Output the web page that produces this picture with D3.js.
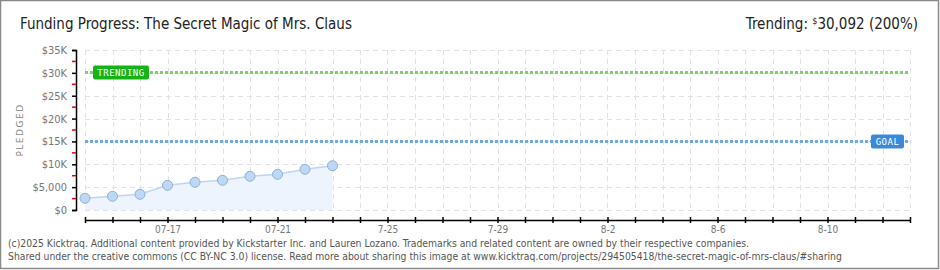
<!DOCTYPE html>
<html>
<head>
<meta charset="utf-8">
<script src="https://cdn.jsdelivr.net/npm/d3@7"></script>
<style>
  body { margin: 0; background: #fff; }
  svg { display: block; }
  .tick text { font-family: "DejaVu Sans Condensed", "Liberation Sans Narrow", sans-serif; }
</style>
</head>
<body>
<div id="chart"></div>
<script>
var days = ["2025-07-14", "2025-07-15", "2025-07-16", "2025-07-17", "2025-07-18",
            "2025-07-19", "2025-07-20", "2025-07-21", "2025-07-22", "2025-07-23"];
var pledged = [2560, 3000, 3430, 5400, 6060, 6500, 7370, 7810, 8900, 9690];
var goal = 15000;
var trending = 30092;
var trendingPct = 200;
var yTicks = [0, 5000, 10000, 15000, 20000, 25000, 30000, 35000];
var xStart = "2025-07-14", xEnd = "2025-08-13";

var width = 940, height = 270;
var parse = d3.timeParse("%Y-%m-%d");
var data = days.map(function(d, i) { return {date: parse(d), value: pledged[i]}; });

var svg = d3.select("#chart").append("svg")
    .attr("width", width)
    .attr("height", height);

// frame
svg.append("rect")
   .attr("x", 0.5).attr("y", 0.5)
   .attr("width", width - 2).attr("height", height - 2)
   .attr("fill", "#fff")
   .attr("stroke", "#8a8a8a")
   .attr("stroke-width", 1.5);

// header
svg.append("text")
   .attr("x", 20).attr("y", 29)
   .attr("font-family", "'Liberation Sans Narrow', 'DejaVu Sans Condensed', sans-serif")
   .attr("font-size", 15)
   .attr("fill", "#222")
   .text("Funding Progress: The Secret Magic of Mrs. Claus");

var hdr = svg.append("text")
   .attr("x", 918).attr("y", 29)
   .attr("text-anchor", "end")
   .attr("font-family", "'Liberation Sans Narrow', 'DejaVu Sans Condensed', sans-serif")
   .attr("font-size", 15)
   .attr("fill", "#222");
hdr.append("tspan").text("Trending:  ");
hdr.append("tspan").attr("font-size", 9).attr("dy", -5).text("$");
hdr.append("tspan").attr("dy", 5).text(d3.format(",")(trending) + " (" + trendingPct + "%)");

var x = d3.scaleTime()
    .domain([parse(xStart), parse(xEnd)])
    .range([85, 910]);
var y = d3.scaleLinear()
    .domain([0, 35000])
    .range([210, 50]);

// grid
var allDays = d3.timeDay.range(parse(xStart), d3.timeDay.offset(parse(xEnd), 1));
svg.append("g").selectAll("line").data(allDays).enter()
   .append("line")
   .attr("x1", function(d) { return Math.round(x(d)) + 0.5; })
   .attr("x2", function(d) { return Math.round(x(d)) + 0.5; })
   .attr("y1", 50).attr("y2", 210)
   .attr("stroke", "#e2e2e2")
   .attr("stroke-dasharray", "5,4");
svg.append("g").selectAll("line").data(yTicks).enter()
   .append("line")
   .attr("x1", 85).attr("x2", 910)
   .attr("y1", function(d) { return Math.round(y(d)) + 0.5; })
   .attr("y2", function(d) { return Math.round(y(d)) + 0.5; })
   .attr("stroke", "#e2e2e2")
   .attr("stroke-dasharray", "5,4");

// area + line
var area = d3.area()
    .x(function(d) { return x(d.date); })
    .y0(y(0))
    .y1(function(d) { return y(d.value); });
var line = d3.line()
    .x(function(d) { return x(d.date); })
    .y(function(d) { return y(d.value); });

svg.append("path").datum(data)
   .attr("d", area)
   .attr("fill", "#edf4fd");
svg.append("path").datum(data)
   .attr("d", line)
   .attr("fill", "none")
   .attr("stroke", "#bcd6f3")
   .attr("stroke-width", 1.5);

// goal + trending lines
svg.append("line")
   .attr("x1", 85).attr("x2", 910)
   .attr("y1", y(goal)).attr("y2", y(goal))
   .attr("stroke", "#72a9e3")
   .attr("stroke-width", 3)
   .attr("stroke-dasharray", "3,2");
svg.append("line")
   .attr("x1", 85).attr("x2", 910)
   .attr("y1", y(trending)).attr("y2", y(trending))
   .attr("stroke", "#7fcf70")
   .attr("stroke-width", 3)
   .attr("stroke-dasharray", "3,2");

// points
svg.append("g").selectAll("circle").data(data).enter()
   .append("circle")
   .attr("cx", function(d) { return x(d.date); })
   .attr("cy", function(d) { return y(d.value); })
   .attr("r", 5)
   .attr("fill", "#bdd8f5")
   .attr("stroke", "#8fb0d6")
   .attr("stroke-width", 1);

// labels on lines
function tag(label, cx, cy, w, fill) {
  svg.append("rect")
     .attr("x", cx).attr("y", cy - 7)
     .attr("width", w).attr("height", 14)
     .attr("rx", 2)
     .attr("fill", fill);
  svg.append("text")
     .attr("x", cx + w / 2).attr("y", cy + 4)
     .attr("text-anchor", "middle")
     .attr("font-family", "'DejaVu Sans Mono', monospace")
     .attr("font-size", 9)
     .attr("letter-spacing", 0.5)
     .attr("fill", "#fff")
     .text(label);
}
tag("TRENDING", 93, y(trending), 56, "#16b316");
tag("GOAL", 871, y(goal), 33, "#3b8ad9");

// y axis
var yAxis = d3.axisLeft(y)
    .tickValues(yTicks)
    .tickSize(4)
    .tickPadding(5)
    .tickFormat(function(d) { return d === 5000 ? "$5,000" : d === 0 ? "$0" : "$" + d / 1000 + "K"; });
var gy = svg.append("g")
   .attr("transform", "translate(76,0)")
   .call(yAxis);
gy.select(".domain").attr("stroke", "#000").attr("stroke-width", 1.5);
gy.selectAll(".tick line").attr("stroke", "#000").attr("stroke-width", 1.5);
gy.selectAll(".tick text").attr("fill", "#777").attr("font-size", 11);
// red minor ticks
gy.selectAll(".minor").data(yTicks.slice(0, -1)).enter()
   .append("line")
   .attr("x1", -4).attr("x2", 0)
   .attr("y1", function(d) { return y(d + 2500); })
   .attr("y2", function(d) { return y(d + 2500); })
   .attr("stroke", "#e00")
   .attr("stroke-width", 1.5);

svg.append("text")
   .attr("transform", "translate(23,130) rotate(-90)")
   .attr("text-anchor", "middle")
   .attr("font-family", "'DejaVu Sans', sans-serif")
   .attr("font-size", 9)
   .attr("letter-spacing", 1.5)
   .attr("fill", "#888")
   .text("PLEDGED");

// x axis
var xAxis = d3.axisBottom(x)
    .tickValues(allDays)
    .tickSize(0)
    .tickFormat(function(d, i) {
      if (i % 4 !== 3) return "";
      var m = d.getMonth() + 1, dd = d.getDate();
      return m === 7 && dd < 25 ? d3.timeFormat("%m-%d")(d) : m + "-" + dd;
    });
var gx = svg.append("g")
   .attr("transform", "translate(0,220)")
   .call(xAxis);
gx.select(".domain").attr("stroke", "#000").attr("stroke-width", 1.5);
gx.selectAll(".tick line")
   .attr("y1", -3).attr("y2", 3)
   .attr("stroke", "#000").attr("stroke-width", 1.5);
gx.selectAll(".tick text")
   .attr("y", 6)
   .attr("fill", "#777").attr("font-size", 10);

// footer
var foot = svg.append("g")
   .attr("font-family", "'DejaVu Sans Condensed', sans-serif")
   .attr("font-size", 10.3)
   .attr("fill", "#555");
foot.append("text").attr("x", 8).attr("y", 247)
   .text("(c)2025 Kicktraq. Additional content provided by Kickstarter Inc. and Lauren Lozano. Trademarks and related content are owned by their respective companies.");
foot.append("text").attr("x", 8).attr("y", 260)
   .text("Shared under the creative commons (CC BY-NC 3.0) license. Read more about sharing this image at www.kicktraq.com/projects/294505418/the-secret-magic-of-mrs-claus/#sharing");
</script>
</body>
</html>
